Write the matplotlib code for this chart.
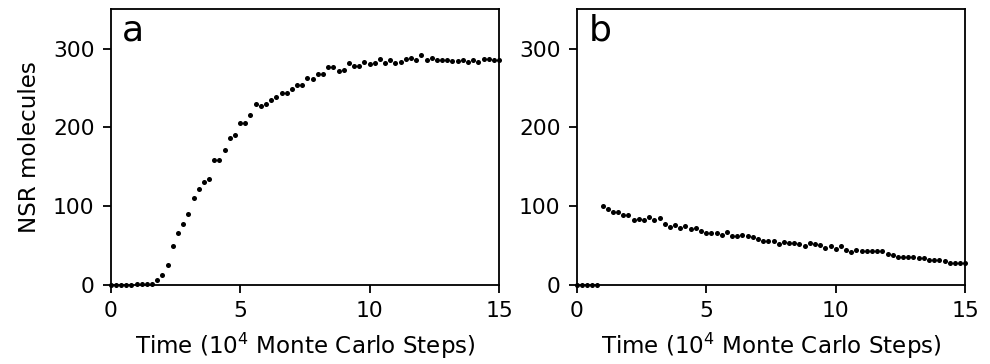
import numpy as np
import matplotlib
matplotlib.use("Agg")
import matplotlib.pyplot as plt

# Panel a: time (10^4 MC steps) and NSR molecule counts
time_a = [round(0.2 * i, 1) for i in range(76)]
nsr_a = [0, 0, 0, 0, 0, 1, 1, 1, 1, 6,
         13, 25, 49, 66, 77, 90, 110, 122, 131, 134,
         158, 158, 171, 186, 190, 205, 206, 216, 229, 227,
         229, 235, 238, 244, 243, 249, 254, 254, 262, 261,
         268, 268, 276, 277, 272, 273, 281, 278, 278, 283,
         280, 281, 287, 282, 285, 281, 283, 287, 288, 286,
         292, 285, 288, 286, 285, 285, 284, 284, 285, 283,
         285, 283, 287, 287, 285, 285]

# Panel b
time_b = [round(0.2 * i, 1) for i in range(76)]
nsr_b = [0, 0, 0, 0, 0,
         100, 97, 93, 93, 89, 89, 83, 84, 83, 86,
         83, 85, 77, 74, 76, 72, 75, 71, 72, 68,
         66, 66, 66, 63, 67, 62, 62, 63, 62, 61,
         58, 56, 56, 56, 52, 55, 53, 53, 52, 49,
         53, 52, 51, 47, 50, 46, 49, 45, 42, 44,
         43, 43, 43, 43, 43, 39, 38, 36, 36, 36,
         35, 34, 34, 32, 32, 32, 30, 28, 28, 28, 28]

panel_labels = ["a", "b"]
x_ticks = [0, 5, 10, 15]
y_ticks = [0, 100, 200, 300]

dpi = 145
fig = plt.figure(figsize=(990 / dpi, 364 / dpi), dpi=dpi)
ax_a = fig.add_axes([0.1118, 0.217, 0.3923, 0.758])
ax_b = fig.add_axes([0.5825, 0.217, 0.3925, 0.758])

for ax, t, v, lab in [(ax_a, time_a, nsr_a, panel_labels[0]),
                      (ax_b, time_b, nsr_b, panel_labels[1])]:
    ax.plot(t, v, 'o', color='black', ms=2.5, mew=0, clip_on=False)
    ax.set_xlim(0, 15)
    ax.set_ylim(0, 350)
    ax.set_xticks(x_ticks)
    ax.set_yticks(y_ticks)
    for s in ax.spines.values():
        s.set_linewidth(0.9)
    ax.tick_params(labelsize=10.8, length=4, width=0.9, pad=4)
    ax.set_xlabel("Time (10$^4$ Monte Carlo Steps)", fontsize=11.4, labelpad=5)
    ax.text(0.03, 0.985, lab, transform=ax.transAxes, fontsize=18,
            va='top', ha='left')

ax_a.set_ylabel("NSR molecules", fontsize=11.4, labelpad=6)

fig.savefig("out.png", dpi=dpi)
